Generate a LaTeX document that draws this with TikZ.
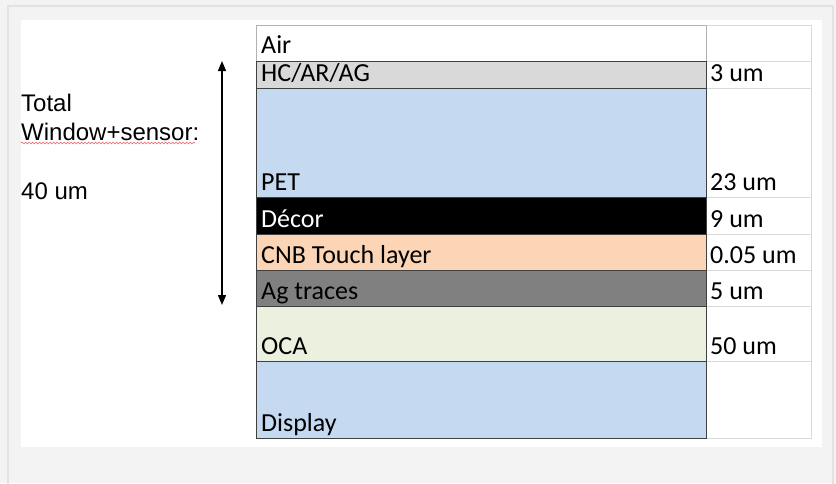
\documentclass[tikz,border=0pt]{standalone}
\usepackage{fontspec}
\setmainfont{Carlito}
\newfontfamily\arialf{Liberation Sans}
\usetikzlibrary{arrows.meta,decorations.pathmorphing}
\definecolor{bgout}{HTML}{F3F3F3}
\definecolor{bgline}{HTML}{E2E2E2}
\definecolor{hcgray}{HTML}{D9D9D9}
\definecolor{petblue}{HTML}{C5D9F1}
\definecolor{cnbpeach}{HTML}{FBD5B5}
\definecolor{aggray}{HTML}{808080}
\definecolor{ocagreen}{HTML}{EBF1DE}
\definecolor{gridgray}{HTML}{D9D9D9}
\definecolor{darkborder}{HTML}{404040}
\definecolor{squig}{HTML}{E86060}
\tikzset{
  lcell/.style={draw=darkborder, line width=0.8pt, anchor=north west, minimum width=449.5pt, inner sep=0pt},
  rcell/.style={draw=gridgray, line width=0.8pt, anchor=north west, minimum width=105pt, inner sep=0pt},
  ctext/.style={font=\fontsize{26}{30}\selectfont, anchor=base west, inner sep=0pt},
  ltext/.style={font=\arialf\fontsize{24}{28}\selectfont, anchor=base west, inner sep=0pt},
  dimarrow/.style={line width=1.4pt, {Triangle[width=8pt,length=10pt]}-{Triangle[width=8pt,length=10pt]}}
}
% #1 name, #2 top, #3 bottom, #4 fill, #5 text, #6 text colour, #7 right text
\newcommand{\mylayer}[7]{%
  \node[rcell, minimum height={(#3-#2)*1pt}] (#1r) at (705.5,#2) {};
  \node[lcell, fill=#4, minimum height={(#3-#2)*1pt}] (#1) at (256,#2) {};
  \node[ctext, text=#6] (#1t) at (261,{#3-6.5}) {#5};
  \node[ctext] (#1v) at (710,{#3-6.5}) {#7};
}
\begin{document}
\begin{tikzpicture}[x=1pt,y=-1pt]
\useasboundingbox (0,0) rectangle (836,483);
\fill[bgout] (0,0) rectangle (836,483);
\draw[bgline, line width=2pt] (8,490) -- (8,6) -- (833,6) -- (833,490);
\fill[white] (21,20) rectangle (822,447);
% Air row
\node[rcell, minimum height=36pt] (airr) at (705.5,25) {};
\node[lcell, draw=gray!60, fill=white, minimum height=36pt] (air) at (256,25) {};
\node[ctext] (airt) at (261,53) {Air};
\mylayer{hc}{61}{88}{hcgray}{HC/AR/AG}{black}{3 um}
\mylayer{pet}{88}{197}{petblue}{PET}{black}{23 um}
\mylayer{decor}{197}{234}{black}{Décor}{white}{9 um}
\mylayer{cnb}{234}{270}{cnbpeach}{CNB Touch layer}{black}{0.05 um}
\mylayer{ag}{270}{306}{aggray}{Ag traces}{black}{5 um}
\mylayer{oca}{306}{361}{ocagreen}{OCA}{black}{50 um}
\mylayer{disp}{361}{438}{petblue}{Display}{black}{}
% left text
\node[ltext] (total) at (21,111.5) {Total};
\node[ltext] (window) at (21,140) {Window+sensor:};
\node[ltext] (forty) at (21,199) {40 um};
\draw[squig, line width=0.6pt, decorate, decoration={snake, amplitude=0.9pt, segment length=3.5pt}]
  ([yshift=-3pt]window.base west) -- ([xshift=-4pt,yshift=-3pt]window.base east);
% arrow
\coordinate (atop) at (222,61);
\coordinate (abot) at (222,305);
\draw[dimarrow] (atop) -- (abot);
\end{tikzpicture}
\end{document}
